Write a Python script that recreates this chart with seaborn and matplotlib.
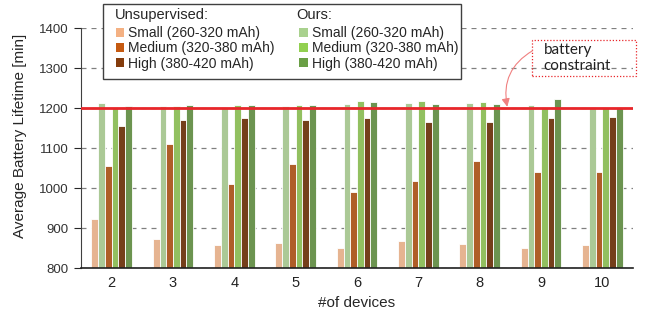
import pandas as pd
import numpy as np
import matplotlib
matplotlib.use("Agg")
import matplotlib.pyplot as plt
import seaborn as sns
from matplotlib.patches import Patch, Rectangle

# values
devices = [2, 3, 4, 5, 6, 7, 8, 9, 10]
unsup_small = [922, 872, 857, 863, 850, 867, 860, 849, 857]
ours_small = [1212, 1204, 1200, 1206, 1209, 1212, 1212, 1207, 1200]
unsup_medium = [1055, 1111, 1011, 1059, 990, 1017, 1067, 1039, 1039]
ours_medium = [1203, 1206, 1207, 1208, 1218, 1217, 1215, 1200, 1200]
unsup_high = [1154, 1170, 1174, 1171, 1176, 1164, 1165, 1174, 1178]
ours_high = [1206, 1208, 1208, 1208, 1216, 1210, 1210, 1223, 1202]

series = {
    "us": unsup_small, "os": ours_small,
    "um": unsup_medium, "om": ours_medium,
    "uh": unsup_high, "oh": ours_high,
}
order = ["us", "os", "um", "om", "uh", "oh"]
colors = {
    "us": "#F4B183", "os": "#A9D18E",
    "um": "#C55A11", "om": "#92D050",
    "uh": "#843C0C", "oh": "#6A9F45",
}
labels = {
    "us": "Small (260-320 mAh)", "um": "Medium (320-380 mAh)", "uh": "High (380-420 mAh)",
    "os": "Small (260-320 mAh)", "om": "Medium (320-380 mAh)", "oh": "High (380-420 mAh)",
}

rows = []
for k in order:
    for d, v in zip(devices, series[k]):
        rows.append({"devices": str(d), "series": k, "value": v})
df = pd.DataFrame(rows)

sns.set_style("white")
plt.rcParams['font.family'] = ['Liberation Sans', 'DejaVu Sans']

W, H = 646, 320
fig = plt.figure(figsize=(6.46, 3.2), dpi=100)
ax = fig.add_axes([81 / W, 52 / H, 552 / W, 240 / H])

sns.barplot(data=df, x="devices", y="value", hue="series", hue_order=order,
            palette=colors, width=0.66, edgecolor="white", linewidth=0.6,
            legend=False, ax=ax)

ax.set_ylim(800, 1400)
ax.set_xlim(-0.5, 8.5)
ax.set_yticks(np.arange(800, 1401, 100))
ax.yaxis.grid(True, linestyle=(0, (4, 4)), color="#808080", linewidth=0.9)
ax.set_axisbelow(True)
for s in ["top", "right"]:
    ax.spines[s].set_visible(False)
ax.spines["left"].set_color("#404040")
ax.spines["bottom"].set_color("#202020")
ax.spines["bottom"].set_linewidth(1.2)
ax.tick_params(axis="y", length=5, direction="out", labelsize=9.5, left=True,
               labelcolor="#333333", pad=4)
ax.tick_params(axis="x", length=0, labelsize=10.5, pad=6, labelcolor="#222222")
ax.set_xlabel("#of devices", fontsize=11, labelpad=4)
ax.set_ylabel("Average Battery Lifetime [min]", fontsize=11)
ax.yaxis.set_label_coords(-54 / 552, 0.55)

# battery constraint line
ax.axhline(1200, color="#E8262A", linewidth=2, zorder=5)

# annotation
ax.add_patch(Rectangle((6.86, 1280), 1.69, 90, fill=False, edgecolor="#E8262A",
                       linestyle=(0, (1, 1.5)), linewidth=0.9, clip_on=False, zorder=6))
ax.text(7.04, 1325, "battery\nconstraint", fontsize=11, family="Lato",
        va="center", ha="left", linespacing=1.2, color="#222222")
ax.annotate("", xy=(6.45, 1203), xytext=(6.86, 1343),
            arrowprops=dict(arrowstyle="-|>", color="#F08080", lw=0.8,
                            connectionstyle="arc3,rad=0.35", mutation_scale=12,
                            shrinkA=0, shrinkB=0),
            zorder=7, annotation_clip=False)

# legend: frame and headers drawn by hand
fig.patches.append(Rectangle((103 / W, 1 - 79 / H), 358 / W, 75 / H,
                             transform=fig.transFigure, facecolor="white",
                             edgecolor="#404040", linewidth=1.0, zorder=8))
handles = [Patch(facecolor=colors[k], edgecolor="none", label=labels[k])
           for k in ["us", "um", "uh", "os", "om", "oh"]]
leg = fig.legend(handles=handles, ncol=2, loc="upper left",
                 bbox_to_anchor=(116 / W, 1 - 26 / H), fontsize=10,
                 frameon=False, handlelength=0.6, handleheight=0.6,
                 handletextpad=0.3, columnspacing=1.75, labelspacing=0.1,
                 borderpad=0, borderaxespad=0)
leg.set_zorder(9)
fig.text(115 / W, 1 - 15 / H, "Unsupervised:", fontsize=10.5, va="center", zorder=10)
fig.text(296 / W, 1 - 15 / H, "Ours:", fontsize=10.5, va="center", zorder=10)

fig.savefig("out.png", dpi=100)
